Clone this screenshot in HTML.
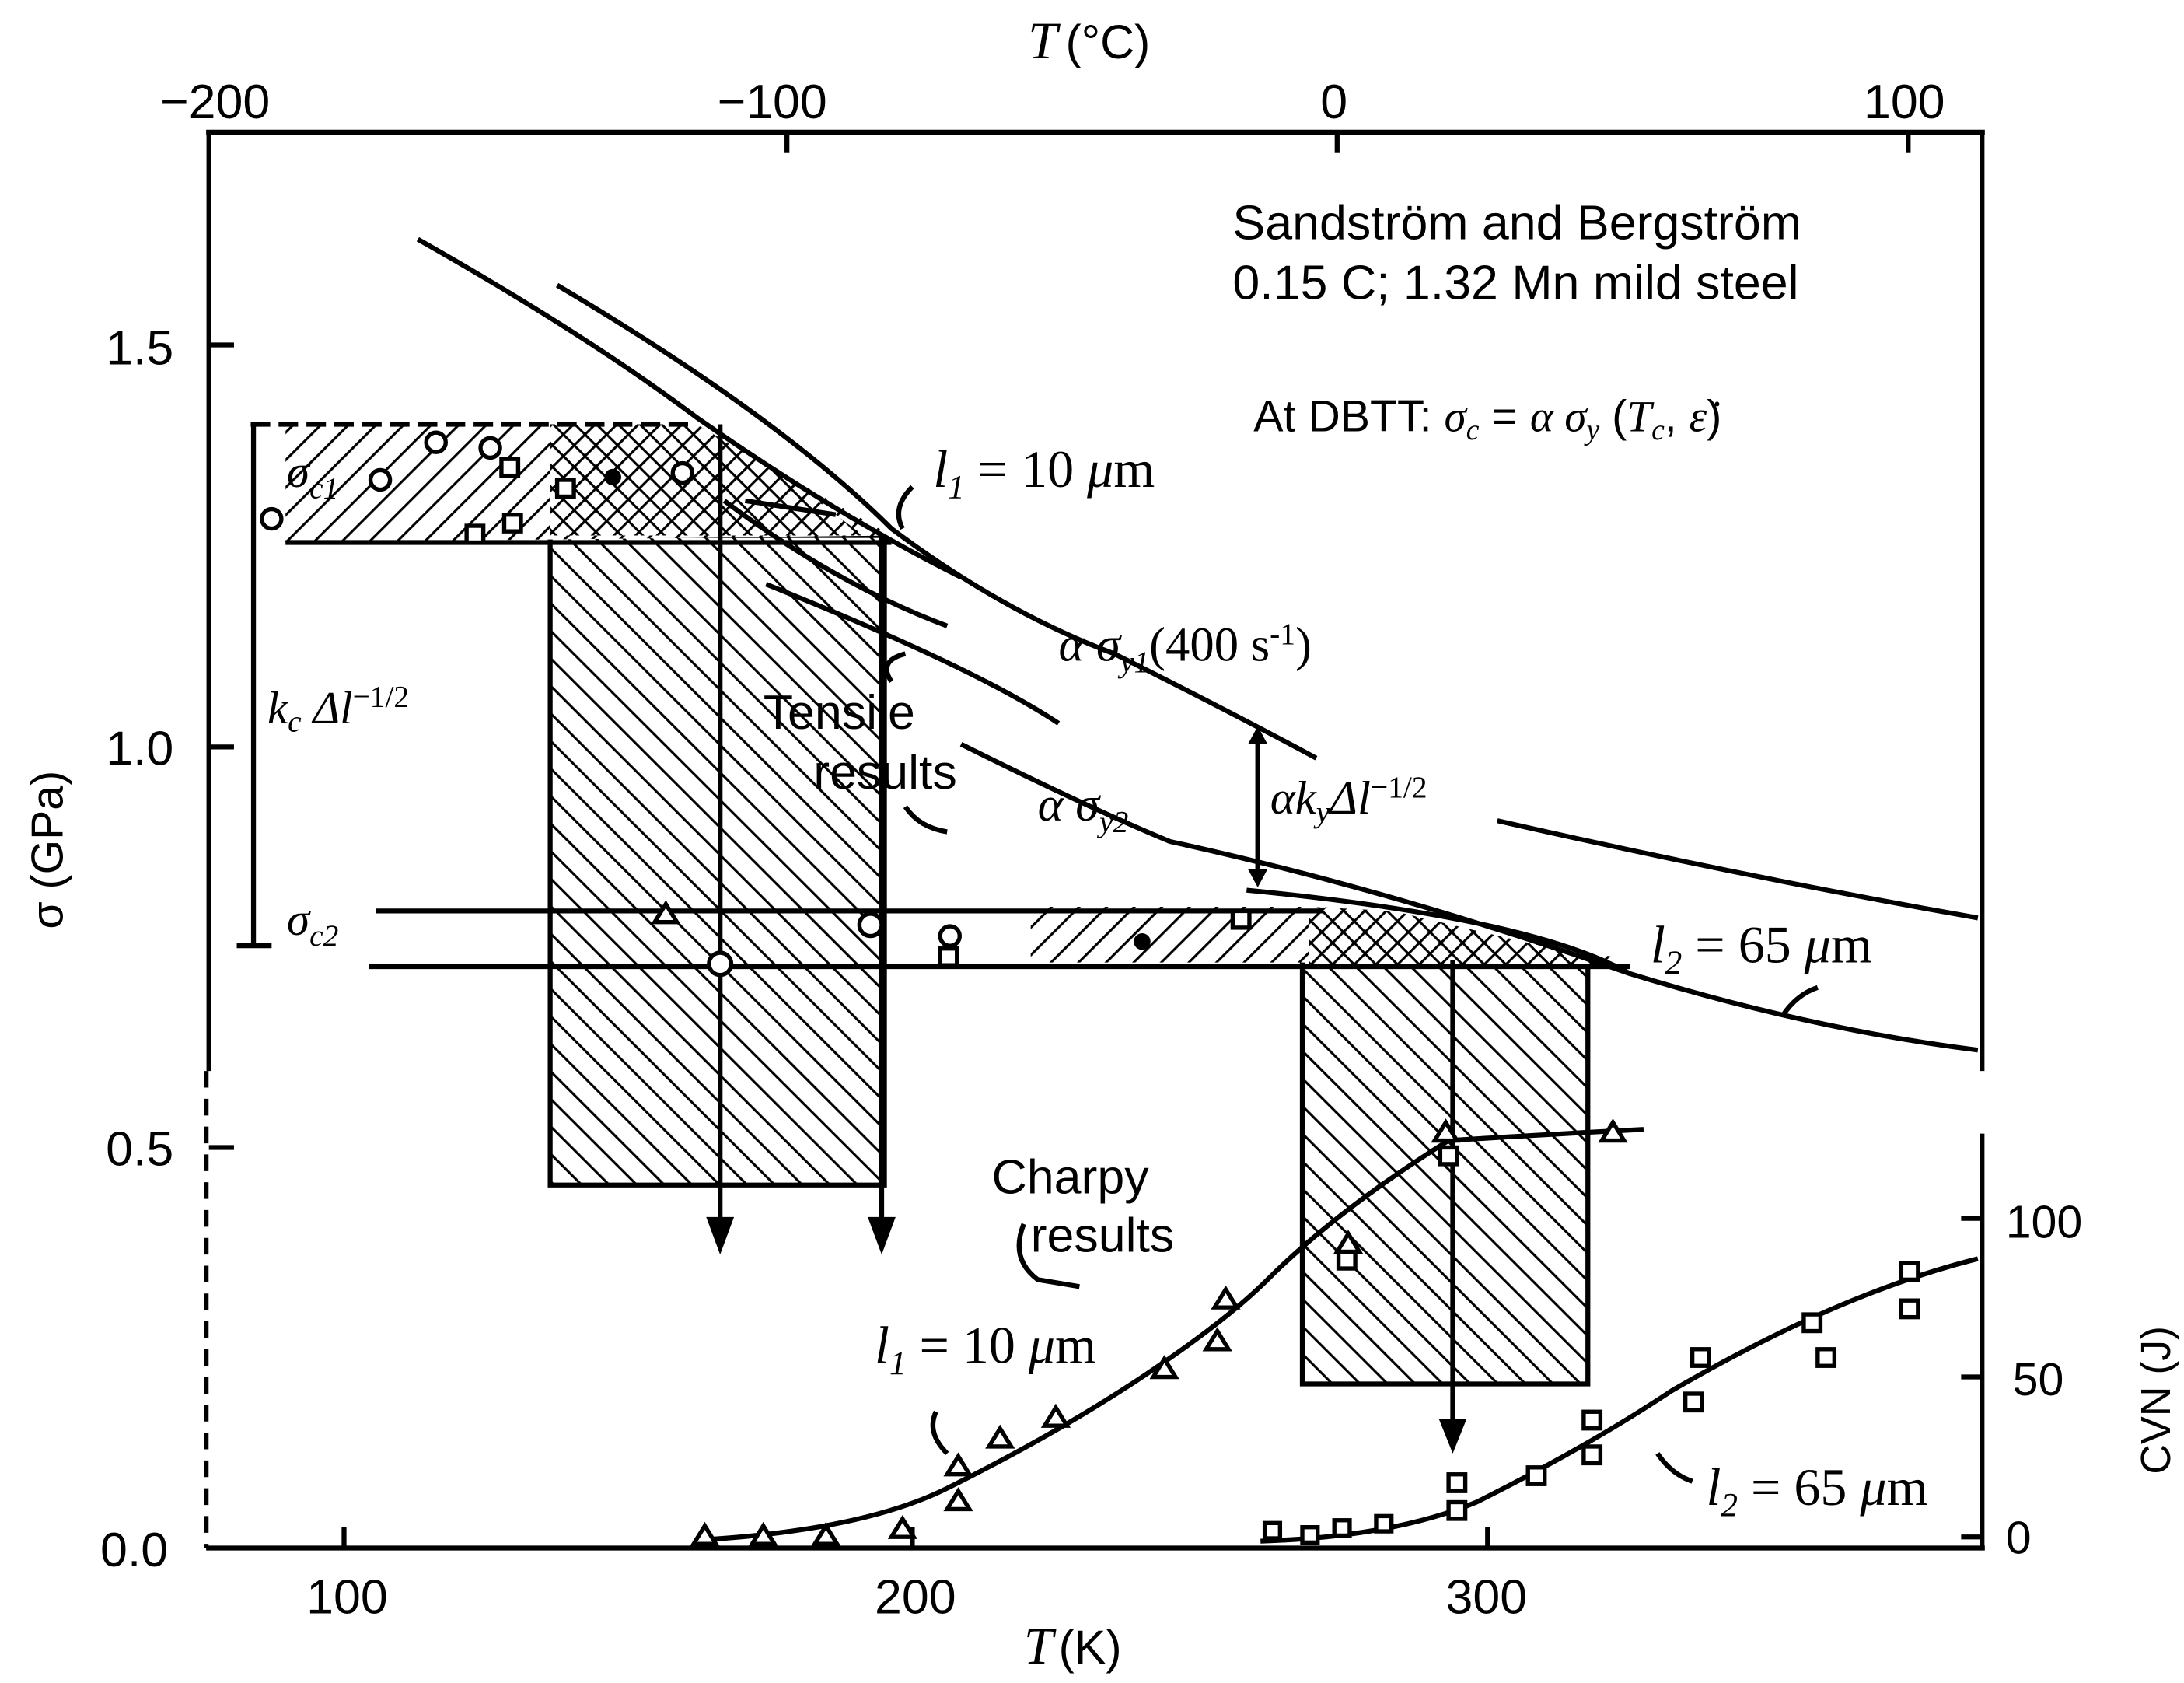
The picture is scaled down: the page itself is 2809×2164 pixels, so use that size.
<!DOCTYPE html>
<html><head><meta charset="utf-8"><style>
html,body{margin:0;padding:0;background:#fff}
svg{display:block}
text{font-family:"Liberation Sans",sans-serif;fill:#000}
.it{font-family:"Liberation Serif",serif;font-style:italic}
</style></head><body>
<svg width="2809" height="2164" viewBox="0 0 1568 1210" preserveAspectRatio="none" xmlns="http://www.w3.org/2000/svg">
<defs>
<pattern id="h1" width="14" height="14" patternUnits="userSpaceOnUse" patternTransform="rotate(45)"><rect width="14" height="14" fill="#fff"/><line x1="0" y1="0" x2="0" y2="14" stroke="#000" stroke-width="3.5"/></pattern>
<pattern id="h2" width="14" height="14" patternUnits="userSpaceOnUse" patternTransform="rotate(-45)"><rect width="14" height="14" fill="#fff"/><line x1="0" y1="0" x2="0" y2="14" stroke="#000" stroke-width="3.5"/></pattern>
<pattern id="hx" width="11" height="11" patternUnits="userSpaceOnUse" patternTransform="rotate(45)"><rect width="11" height="11" fill="#fff"/><line x1="0" y1="0" x2="0" y2="11" stroke="#000" stroke-width="3.5"/><line x1="0" y1="0" x2="11" y2="0" stroke="#000" stroke-width="3.5"/></pattern>
</defs>
<g stroke="#000" stroke-width="3.5" fill="none">
<line x1="148" y1="95" x2="1425" y2="95"/>
<line x1="148" y1="1113" x2="1425" y2="1113"/>
<line x1="150" y1="95" x2="150" y2="770"/>
<line x1="148" y1="770" x2="148" y2="1113" stroke-dasharray="12,8"/>
<line x1="1423" y1="95" x2="1423" y2="770"/>
<line x1="1423" y1="815" x2="1423" y2="1113"/>
</g>
<g stroke="#000" stroke-width="3.5">
<line x1="150" y1="248" x2="168" y2="248"/><line x1="150" y1="537" x2="168" y2="537"/><line x1="150" y1="825" x2="168" y2="825"/>
<line x1="247" y1="1113" x2="247" y2="1098"/><line x1="655" y1="1113" x2="655" y2="1098"/><line x1="1068" y1="1113" x2="1068" y2="1098"/>
<line x1="565" y1="95" x2="565" y2="110"/><line x1="960" y1="95" x2="960" y2="110"/><line x1="1370" y1="95" x2="1370" y2="110"/>
<line x1="1423" y1="876" x2="1408" y2="876"/><line x1="1423" y1="990" x2="1408" y2="990"/><line x1="1423" y1="1105" x2="1408" y2="1105"/>
</g>
<rect x="395" y="385" width="240" height="467" fill="url(#h2)" stroke="#000" stroke-width="3.5"/>
<rect x="935" y="690" width="205" height="305" fill="url(#h2)" stroke="#000" stroke-width="3.5"/>
<path d="M205 305 L500 305 L640 385 L205 390 Z" fill="url(#h1)"/>
<path d="M395 305 L500 305 L560 340 L620 385 L395 385 Z" fill="url(#hx)"/>
<path d="M740 652 L950 652 L1170 690 L1165 692 L740 692 Z" fill="url(#h1)"/>
<path d="M940 652 L1000 655 L1170 695 L940 695 Z" fill="url(#hx)"/>
<g stroke="#000" stroke-width="3.5" fill="none">
<line x1="180" y1="305" x2="500" y2="305" stroke-dasharray="14,6"/>
<line x1="205" y1="390" x2="640" y2="390"/>
<line x1="182" y1="305" x2="182" y2="680"/>
<line x1="170" y1="680" x2="195" y2="680"/>
<line x1="270" y1="655" x2="950" y2="655"/>
<line x1="265" y1="695" x2="1170" y2="695"/>
<path d="M300 172 Q420 240 500 300 Q600 370 690 415"/>
<path d="M400 205 Q560 300 640 380 Q720 440 800 470 Q880 510 945 545"/>
<path d="M1075 590 Q1250 630 1420 660"/>
<path d="M550 420 Q700 480 760 520"/>
<path d="M690 535 Q780 580 840 605 Q1000 640 1170 700 Q1300 740 1420 755"/>
<path d="M520 360 Q600 420 680 450"/>
<line x1="517" y1="305" x2="517" y2="885"/>
<line x1="633" y1="385" x2="633" y2="885"/>
<line x1="1043" y1="690" x2="1043" y2="1030"/>
<line x1="903" y1="535" x2="903" y2="625"/>
<path d="M895 640 Q1100 660 1170 700"/>
<path d="M535 360 L600 370"/>
<path d="M505 1107 Q620 1100 680 1070 Q760 1030 820 990 Q880 950 910 920 Q960 870 1040 820 Q1120 815 1180 812"/>
<path d="M905 1108 Q1000 1105 1060 1080 Q1140 1040 1200 1000 Q1320 930 1420 905"/>
<path d="M655 350 Q640 365 648 380"/>
<path d="M1305 710 Q1290 715 1280 730"/>
<path d="M650 470 Q630 475 640 490"/>
<path d="M650 580 Q660 595 680 598"/>
<path d="M735 880 Q725 905 745 920 L775 925"/>
<path d="M680 1045 Q665 1030 672 1015"/>
<path d="M1190 1045 Q1200 1060 1215 1065"/>
</g>
<g fill="#000">
<polygon points="507,875 527,875 517,902"/>
<polygon points="623,875 643,875 633,902"/>
<polygon points="1033,1020 1053,1020 1043,1045"/>
<polygon points="896,535 910,535 903,522"/>
<polygon points="896,625 910,625 903,638"/>
<circle cx="820" cy="677" r="6"/>
<circle cx="440" cy="343" r="6"/>
</g>
<g stroke="#000" stroke-width="3" fill="#fff">
<circle cx="195" cy="373" r="7"/><circle cx="273" cy="345" r="7"/><circle cx="313" cy="318" r="7"/><circle cx="352" cy="322" r="7"/>
<rect x="335" y="378" width="12" height="12"/><rect x="362" y="370" width="12" height="12"/><rect x="400" y="345" width="12" height="12"/><rect x="360" y="330" width="12" height="12"/>
<circle cx="490" cy="340" r="7"/><circle cx="517" cy="693" r="8"/><circle cx="625" cy="665" r="8"/><circle cx="682" cy="673" r="7"/>
<rect x="675" y="682" width="12" height="12"/><rect x="885" y="655" width="12" height="12"/>
<path d="M470 663 L478 650 L486 663 Z"/>
<path d="M498 1110 L506 1097 L514 1110 Z"/><path d="M540 1110 L548 1097 L556 1110 Z"/><path d="M585 1110 L593 1097 L601 1110 Z"/><path d="M640 1105 L648 1092 L656 1105 Z"/>
<path d="M680 1060 L688 1047 L696 1060 Z"/><path d="M680 1085 L688 1072 L696 1085 Z"/><path d="M710 1040 L718 1027 L726 1040 Z"/><path d="M750 1025 L758 1012 L766 1025 Z"/>
<path d="M828 990 L836 977 L844 990 Z"/><path d="M866 970 L874 957 L882 970 Z"/><path d="M872 940 L880 927 L888 940 Z"/><path d="M960 900 L968 887 L976 900 Z"/>
<path d="M1030 820 L1038 807 L1046 820 Z"/><path d="M1150 820 L1158 807 L1166 820 Z"/>
<rect x="1034" y="825" width="12" height="12"/><rect x="961" y="900" width="12" height="12"/>
<rect x="908" y="1095" width="11" height="11"/><rect x="935" y="1098" width="11" height="11"/><rect x="958" y="1093" width="11" height="11"/><rect x="988" y="1090" width="11" height="11"/>
<rect x="1040" y="1060" width="12" height="12"/><rect x="1040" y="1080" width="12" height="12"/><rect x="1097" y="1055" width="12" height="12"/><rect x="1137" y="1040" width="12" height="12"/><rect x="1137" y="1015" width="12" height="12"/>
<rect x="1210" y="1002" width="12" height="12"/><rect x="1215" y="970" width="12" height="12"/><rect x="1295" y="945" width="12" height="12"/><rect x="1305" y="970" width="12" height="12"/><rect x="1365" y="908" width="12" height="12"/><rect x="1365" y="935" width="12" height="12"/>
</g>
<g>
<text x="738" y="42" font-size="38" class="it">T</text><text x="765" y="42" font-size="34"> (°C)</text>
<text x="115" y="85" font-size="35">−200</text><text x="515" y="85" font-size="35">−100</text><text x="948" y="85" font-size="35">0</text><text x="1338" y="85" font-size="35">100</text>
<text x="220" y="1160" font-size="35">100</text><text x="628" y="1160" font-size="35">200</text><text x="1038" y="1160" font-size="35">300</text>
<text x="735" y="1196" font-size="38" class="it">T</text><text x="760" y="1196" font-size="34"> (K)</text>
<text x="76" y="262" font-size="35">1.5</text><text x="76" y="550" font-size="35">1.0</text><text x="76" y="838" font-size="35">0.5</text><text x="72" y="1126" font-size="35">0.0</text>
<text transform="translate(45,668) rotate(-90)" font-size="32">σ (GPa)</text>
<text transform="translate(1558,1060) rotate(-90)" font-size="30">CVN (J)</text>
<text x="1440" y="890" font-size="33">100</text><text x="1445" y="1003" font-size="33">50</text><text x="1440" y="1117" font-size="33">0</text>
<text x="885" y="172" font-size="35">Sandström and Bergström</text>
<text x="885" y="215" font-size="35">0.15 C; 1.32 Mn mild steel</text>
<text x="900" y="310" font-size="32">At DBTT: <tspan class="it">σ</tspan><tspan font-size="21" class="it" dy="6">c</tspan><tspan dy="-6"> = </tspan><tspan class="it">α σ</tspan><tspan font-size="21" class="it" dy="6">y</tspan><tspan dy="-6"> (</tspan><tspan class="it">T</tspan><tspan font-size="21" class="it" dy="6">c</tspan><tspan dy="-6">, </tspan><tspan class="it">ε̇</tspan>)</text>
<text x="670" y="350" font-size="38" class="it">l<tspan font-size="24" dy="8">1</tspan><tspan dy="-8" font-style="normal"> = 10 </tspan>μ<tspan font-style="normal">m</tspan></text>
<text x="760" y="475" font-size="35" class="it">α σ<tspan font-size="22" dy="8">y1</tspan><tspan dy="-8" font-style="normal">(400 s</tspan><tspan font-size="22" dy="-12" font-style="normal">-1</tspan><tspan dy="12" font-style="normal">)</tspan></text>
<text x="548" y="524" font-size="35">Tensile</text><text x="584" y="567" font-size="35">results</text>
<text x="745" y="590" font-size="35" class="it">α σ<tspan font-size="22" dy="8">y2</tspan></text>
<text x="912" y="585" font-size="34" class="it">αk<tspan font-size="22" dy="6">y</tspan><tspan dy="-6">Δl</tspan><tspan font-size="22" dy="-12" font-style="normal">−1/2</tspan></text>
<text x="192" y="520" font-size="33" class="it">k<tspan font-size="22" dy="6">c</tspan><tspan dy="-6"> Δl</tspan><tspan font-size="22" dy="-12" font-style="normal">−1/2</tspan></text>
<text x="206" y="350" font-size="33" class="it">σ<tspan font-size="22" dy="8">c1</tspan></text>
<text x="206" y="672" font-size="33" class="it">σ<tspan font-size="22" dy="8">c2</tspan></text>
<text x="1185" y="692" font-size="38" class="it">l<tspan font-size="24" dy="8">2</tspan><tspan dy="-8" font-style="normal"> = 65 </tspan>μ<tspan font-style="normal">m</tspan></text>
<text x="712" y="858" font-size="35">Charpy</text><text x="740" y="900" font-size="35">results</text>
<text x="628" y="980" font-size="38" class="it">l<tspan font-size="24" dy="8">1</tspan><tspan dy="-8" font-style="normal"> = 10 </tspan>μ<tspan font-style="normal">m</tspan></text>
<text x="1225" y="1082" font-size="38" class="it">l<tspan font-size="24" dy="8">2</tspan><tspan dy="-8" font-style="normal"> = 65 </tspan>μ<tspan font-style="normal">m</tspan></text>
</g>
</svg>
</body></html>
